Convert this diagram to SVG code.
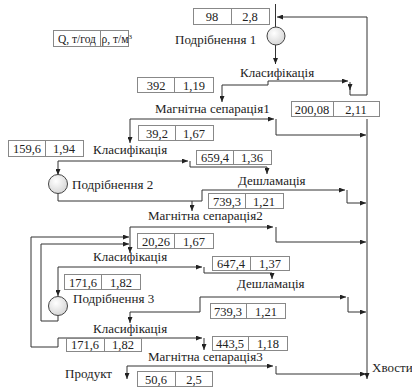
<svg xmlns="http://www.w3.org/2000/svg" width="412" height="387" viewBox="0 0 412 387" font-family="'Liberation Serif', 'Times New Roman', serif">
<style>
.bx{fill:#fff;stroke:#888;stroke-width:1}
.dv{stroke:#888;stroke-width:1}
text{font-family:"Liberation Serif","Times New Roman",serif;font-size:13px;fill:#222}
.n{text-anchor:middle;font-size:12.5px}
.c path{fill:none;stroke:#333;stroke-width:1}
.e{marker-end:url(#a)}
.crc{fill:url(#g);stroke:#444;stroke-width:1}
</style>
<defs>
<marker id="a" viewBox="0 0 6 5" refX="6" refY="2.5" markerWidth="6" markerHeight="5" orient="auto" markerUnits="userSpaceOnUse"><path d="M0,0 L6,2.5 L0,5 z" fill="#222"/></marker>
<radialGradient id="g" cx="0.4" cy="0.35" r="0.7"><stop offset="0" stop-color="#fff"/><stop offset="1" stop-color="#d4d4d4"/></radialGradient>
</defs>

<g id="connectors" class="c">
<path d="M275.5,4 V27"/>
<path class="e" d="M275.5,45 V64"/>
<path class="e" d="M268,81 H348"/>
<path class="e" d="M350,82 V90"/>
<path class="e" d="M350,88 V95 H367 V17 H277"/>
<path class="e" d="M268,81 V85 H222 V102"/>
<path class="e" d="M130,119 H274"/>
<path class="e" d="M276,119 V135 H366"/>
<path class="e" d="M130,119 V143"/>
<path class="e" d="M58,161 H188"/>
<path class="e" d="M58,161 V175"/>
<path class="e" d="M190,161 V167 H267 V174"/>
<path class="e" d="M58,193 V201 H202 V190 H345"/>
<path class="e" d="M192,201 V211"/>
<path class="e" d="M347,190 V203 H366"/>
<path class="e" d="M130,227 H273"/>
<path class="e" d="M276,227 V242 H366"/>
<path class="e" d="M130,227 V253"/>
<path class="e" d="M58,338 V347 H31 V237 H129"/>
<path class="e" d="M58,315 V321 H41 V244 H129"/>
<path class="e" d="M58,267 H202"/>
<path class="e" d="M58,267 V296"/>
<path class="e" d="M204,267 V273 H272 V279"/>
<path class="e" d="M130,312 H200 V297 H346"/>
<path class="e" d="M348,297 V312 H366"/>
<path class="e" d="M130,312 V323"/>
<path class="e" d="M58,338 H202"/>
<path class="e" d="M204,338 V350"/>
<path class="e" d="M127,366 H273"/>
<path class="e" d="M276,366 V374 H366"/>
<path class="e" d="M127,366 V379"/>
<path class="e" d="M367,119 V379"/>
</g>

<g id="legend"><rect class="bx" x="53.5" y="30.5" width="75" height="16"/><line class="dv" x1="100.5" y1="30.5" x2="100.5" y2="46.5"/><text x="77" y="42.5" class="n" style="font-size:11.5px">Q, т/год</text><text x="101.5" y="42.5" style="font-size:11.5px">ρ, т/м<tspan style="font-size:7px" dy="-4">3</tspan></text></g>

<g id="b98"><rect class="bx" x="193.5" y="8.5" width="76" height="16"/><line class="dv" x1="231.5" y1="8.5" x2="231.5" y2="24.5"/><text x="212" y="21" class="n">98</text><text x="250" y="21" class="n">2,8</text></g>
<g id="drob1"><circle class="crc" cx="276" cy="36" r="9"/><text x="175" y="44">Подрібнення 1</text></g>
<g id="klas1"><text x="240" y="77">Класифікація</text></g>
<g id="b392"><rect class="bx" x="137.5" y="77.5" width="76" height="15"/><line class="dv" x1="174.5" y1="77.5" x2="174.5" y2="92.5"/><text x="156" y="89.5" class="n">392</text><text x="194" y="89.5" class="n">1,19</text></g>
<g id="b200"><rect class="bx" x="291.5" y="101.5" width="88" height="15"/><line class="dv" x1="333.5" y1="101.5" x2="333.5" y2="116.5"/><text x="312" y="113.5" class="n">200,08</text><text x="356" y="113.5" class="n">2,11</text></g>
<g id="ms1"><text x="155" y="113">Магнітна сепарація1</text></g>
<g id="b392b"><rect class="bx" x="138.5" y="125.5" width="75" height="15"/><line class="dv" x1="175.5" y1="125.5" x2="175.5" y2="140.5"/><text x="157" y="137.5" class="n">39,2</text><text x="194" y="137.5" class="n">1,67</text></g>
<g id="b159"><rect class="bx" x="8.5" y="140.5" width="75" height="16"/><line class="dv" x1="45.5" y1="140.5" x2="45.5" y2="156.5"/><text x="27" y="152.5" class="n">159,6</text><text x="64" y="152.5" class="n">1,94</text></g>
<g id="klas2"><text x="93" y="154">Класифікація</text></g>
<g id="b659"><rect class="bx" x="196.5" y="150.5" width="75" height="14"/><line class="dv" x1="233.5" y1="150.5" x2="233.5" y2="164.5"/><text x="215" y="161.5" class="n">659,4</text><text x="252" y="161.5" class="n">1,36</text></g>
<g id="drob2"><circle class="crc" cx="58" cy="184" r="9.5"/><text x="72" y="189">Подрібнення 2</text></g>
<g id="desh1"><text x="238" y="185">Дешламація</text></g>
<g id="b739"><rect class="bx" x="208.5" y="193.5" width="75" height="15"/><line class="dv" x1="245.5" y1="193.5" x2="245.5" y2="208.5"/><text x="227" y="205.5" class="n">739,3</text><text x="264" y="205.5" class="n">1,21</text></g>
<g id="ms2"><text x="148" y="220">Магнітна сепарація2</text></g>
<g id="b2026"><rect class="bx" x="137.5" y="233.5" width="76" height="15"/><line class="dv" x1="174.5" y1="233.5" x2="174.5" y2="248.5"/><text x="156" y="245.5" class="n">20,26</text><text x="194" y="245.5" class="n">1,67</text></g>
<g id="klas3"><text x="93" y="261">Класифікація</text></g>
<g id="b647"><rect class="bx" x="212.5" y="256.5" width="77" height="14"/><line class="dv" x1="250.5" y1="256.5" x2="250.5" y2="270.5"/><text x="231" y="267.5" class="n">647,4</text><text x="270" y="267.5" class="n">1,37</text></g>
<g id="b1716a"><rect class="bx" x="64.5" y="274.5" width="76" height="15"/><line class="dv" x1="101.5" y1="274.5" x2="101.5" y2="289.5"/><text x="83" y="286.5" class="n">171,6</text><text x="121" y="286.5" class="n">1,82</text></g>
<g id="desh2"><text x="237" y="288">Дешламація</text></g>
<g id="drob3"><circle class="crc" cx="58" cy="306" r="9.5"/><text x="73" y="303">Подрібнення 3</text></g>
<g id="b739b"><rect class="bx" x="210.5" y="303.5" width="75" height="15"/><line class="dv" x1="246.5" y1="303.5" x2="246.5" y2="318.5"/><text x="228" y="315.5" class="n">739,3</text><text x="266" y="315.5" class="n">1,21</text></g>
<g id="klas4"><text x="93" y="333">Класифікація</text></g>
<g id="b1716b"><rect class="bx" x="66.5" y="338.5" width="75" height="13"/><line class="dv" x1="104.5" y1="338.5" x2="104.5" y2="351.5"/><text x="85" y="349" class="n">171,6</text><text x="123" y="349" class="n">1,82</text></g>
<g id="b443"><rect class="bx" x="212.5" y="336.5" width="75" height="14"/><line class="dv" x1="248.5" y1="336.5" x2="248.5" y2="350.5"/><text x="230" y="347.5" class="n">443,5</text><text x="268" y="347.5" class="n">1,18</text></g>
<g id="ms3"><text x="148" y="361">Магнітна сепарація3</text></g>
<g id="prod"><text x="65" y="378">Продукт</text></g>
<g id="b506"><rect class="bx" x="137.5" y="371.5" width="75" height="15"/><line class="dv" x1="175.5" y1="371.5" x2="175.5" y2="386.5"/><text x="156" y="383.5" class="n">50,6</text><text x="194" y="383.5" class="n">2,5</text></g>
<g id="tails"><text x="372" y="372">Хвости</text></g>
</svg>
